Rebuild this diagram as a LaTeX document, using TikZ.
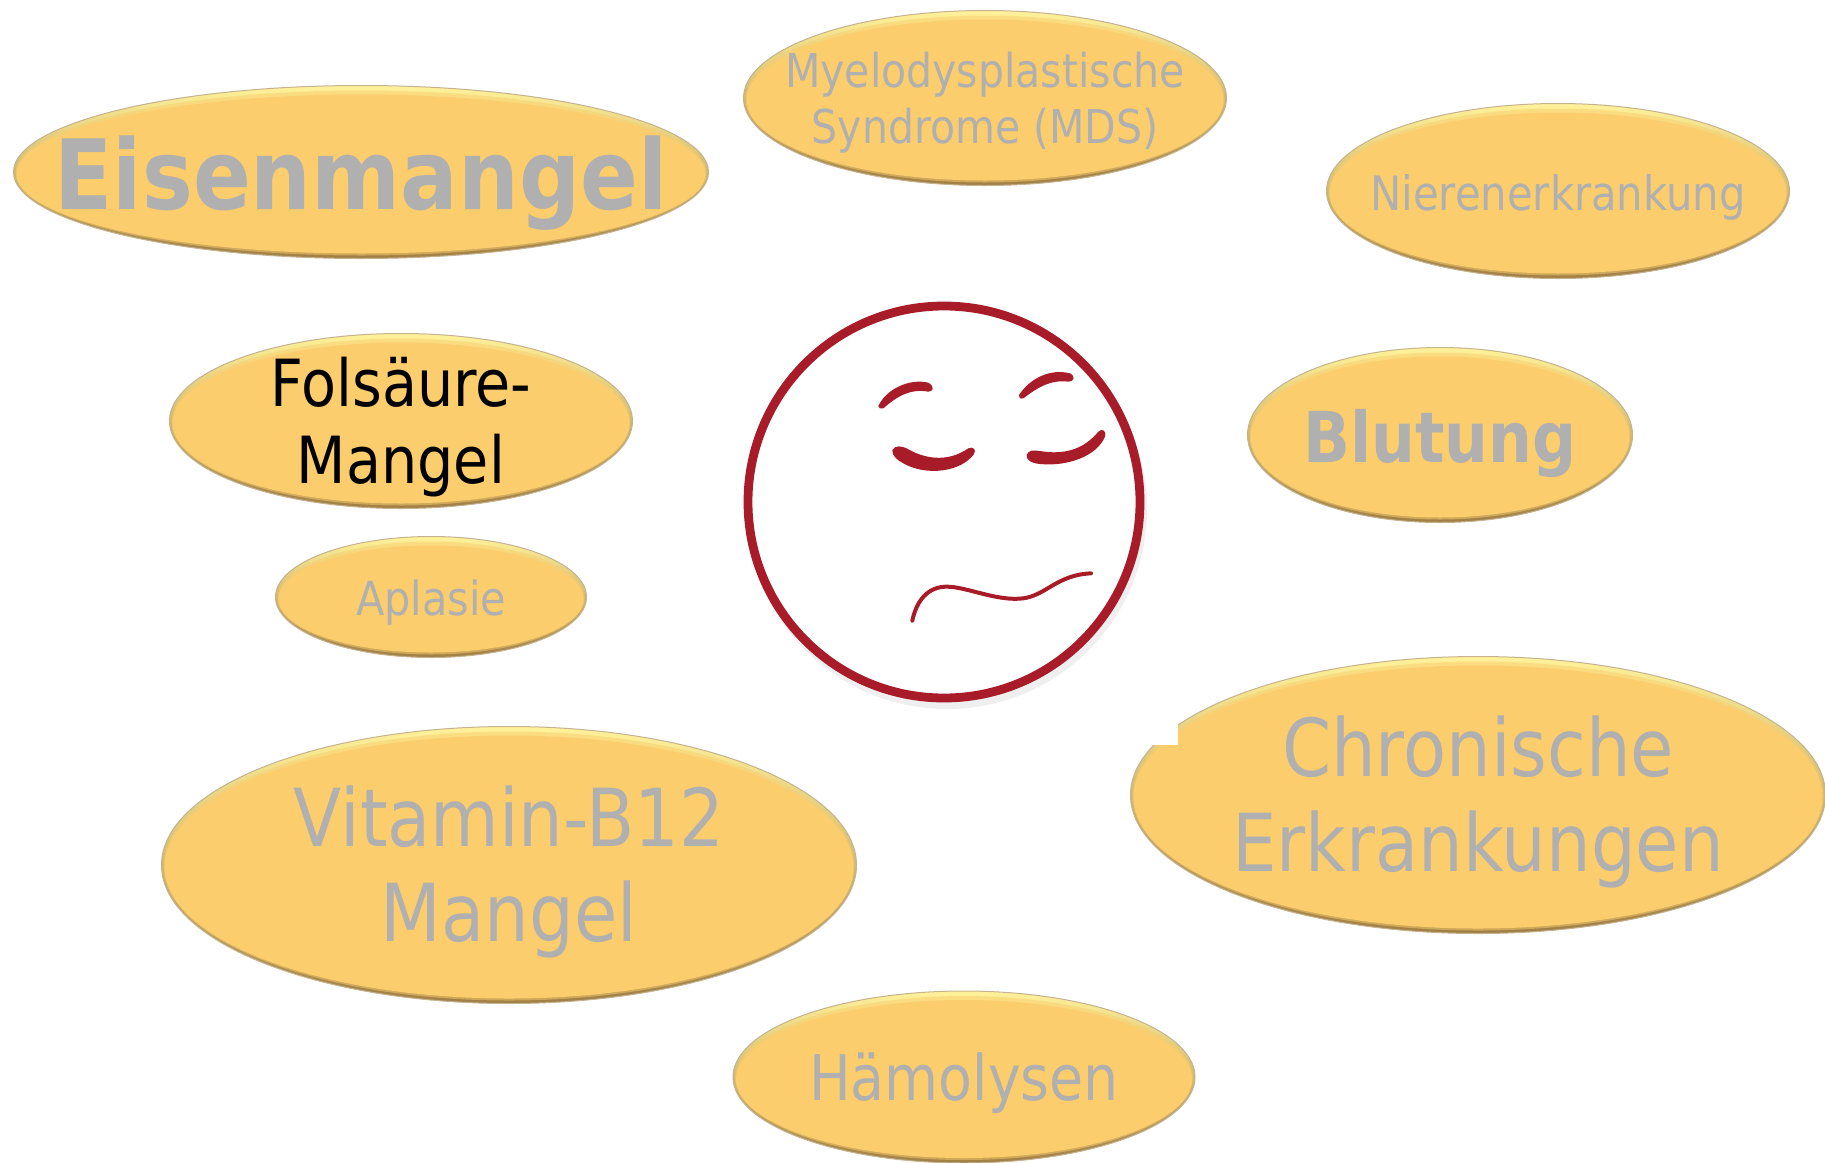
\documentclass[tikz,border=0pt]{standalone}
\usepackage{fontspec}
\usepackage{tikz}
\usetikzlibrary{positioning,calc,shapes.geometric}
\setmainfont{DejaVu Sans}[FakeStretch=0.88]
\definecolor{PillFill}{HTML}{FBCD6C}
\definecolor{PillTop}{HTML}{FFF29A}
\definecolor{PillEdge}{HTML}{A07F45}
\definecolor{MutedText}{HTML}{B0B0B0}
\definecolor{FaceRed}{HTML}{A81C2A}
\definecolor{FaceShadow}{HTML}{EFEFEF}
\tikzset{
  pillrim/.style={top color=PillTop, middle color=PillFill, bottom color=PillEdge, draw=PillEdge!60, line width=0.5pt},
  pilllabel/.style={align=center, inner sep=0pt, text=MutedText},
}
% rim, inner face and label of one oval
\newcommand{\pill}[7][]{%
  \path[pillrim] (#3,#4) ellipse ({#5/2} and {#6/2});
  \fill[PillFill, opacity=0.5] (#3,#4+1) ellipse ({#5/2-2} and {#6/2-4});
  \fill[PillFill] (#3,#4+2) ellipse ({#5/2-3} and {#6/2-7});
  \node[pilllabel, #1] (#2) at (#3,#4) {#7};
}

\begin{document}
\begin{tikzpicture}[x=0.5pt, y=-0.5pt]
  \useasboundingbox (0,0) rectangle (1825,1162);
  \fill[white] (0,0) rectangle (1825,1162);

  % Ovals
  \pill[font=\fontsize{23.3}{28}\selectfont, yshift=-2.3pt]{myelo}{985}{98}{483}{175}{Myelodysplastische\\Syndrome (MDS)}
  \pill[font=\fontsize{23.7}{28}\selectfont, yshift=-3pt]{niere}{1558}{191}{463}{175}{Nierenerkrankung}
  \pill[font=\fontsize{32.5}{38.5}\selectfont, text=black, yshift=-3pt]{folsaeure}{401}{421}{463}{175}{Folsäure-\\Mangel}
  \pill[font=\fontsize{48.5}{54}\selectfont\bfseries, yshift=-5.5pt]{eisen}{361}{172}{695}{173}{Eisenmangel}
  \pill[font=\fontsize{35}{38}\selectfont\bfseries, yshift=-4pt]{blutung}{1440}{435}{385}{175}{Blutung}
  \pill[font=\fontsize{23.5}{28}\selectfont, yshift=-2.6pt]{aplasie}{431}{597}{311}{121}{Aplasie}
  \pill[font=\fontsize{40}{47.7}\selectfont, yshift=-3.5pt]{vitamin}{509}{865}{695}{277}{Vitamin-B12\\Mangel}
  \pill[font=\fontsize{40}{47.7}\selectfont, yshift=-3.5pt]{chronisch}{1478}{795}{695}{277}{Chronische\\Erkrankungen}
  \pill[font=\fontsize{31.5}{38}\selectfont, yshift=-3pt]{haemolyse}{964}{1077}{462}{172}{Hämolysen}

  % White corner of the face picture over the oval
  \fill[white] (1120,650) rectangle (1178,745);

  % Face
  \draw[FaceShadow, line width=5pt] (947,509) circle (195);
  \fill[white] (944,502) circle (193);
  \draw[FaceRed, line width=4.4pt] (944,502) circle (196);

  \begin{scope}[shift={(720,280)}, x=0.5pt/3, y=-0.5pt/3]
    % Brows
    \fill[FaceRed] (475,378) .. controls (500,325) and (570,295) .. (625,308)
      .. controls (645,320) and (640,335) .. (625,335)
      .. controls (570,325) and (530,350) .. (490,385)
      .. controls (482,388) and (475,385) .. (475,378) -- cycle;
    \fill[FaceRed] (897,345) .. controls (930,295) and (990,265) .. (1050,280)
      .. controls (1068,290) and (1062,305) .. (1045,305)
      .. controls (990,298) and (950,325) .. (910,355)
      .. controls (900,358) and (895,352) .. (897,345) -- cycle;
    % Eyes
    \fill[FaceRed] (517,510) .. controls (525,495) and (545,498) .. (560,505)
      .. controls (610,535) and (680,550) .. (745,505)
      .. controls (760,498) and (770,510) .. (762,522)
      .. controls (725,575) and (620,590) .. (550,550)
      .. controls (530,540) and (515,525) .. (517,510) -- cycle;
    \fill[FaceRed] (920,525) .. controls (925,510) and (940,510) .. (960,513)
      .. controls (1030,525) and (1090,510) .. (1135,455)
      .. controls (1145,445) and (1160,450) .. (1155,470)
      .. controls (1130,530) and (1040,560) .. (960,552)
      .. controls (935,550) and (918,540) .. (920,525) -- cycle;
    % Mouth
    \draw[FaceRed, line width=2pt, line cap=round] (577,1022)
      .. controls (590,960) and (625,920) .. (680,920)
      .. controls (740,920) and (830,965) .. (910,955)
      .. controls (980,945) and (1010,885) .. (1113,880);
  \end{scope}
\end{tikzpicture}
\end{document}
